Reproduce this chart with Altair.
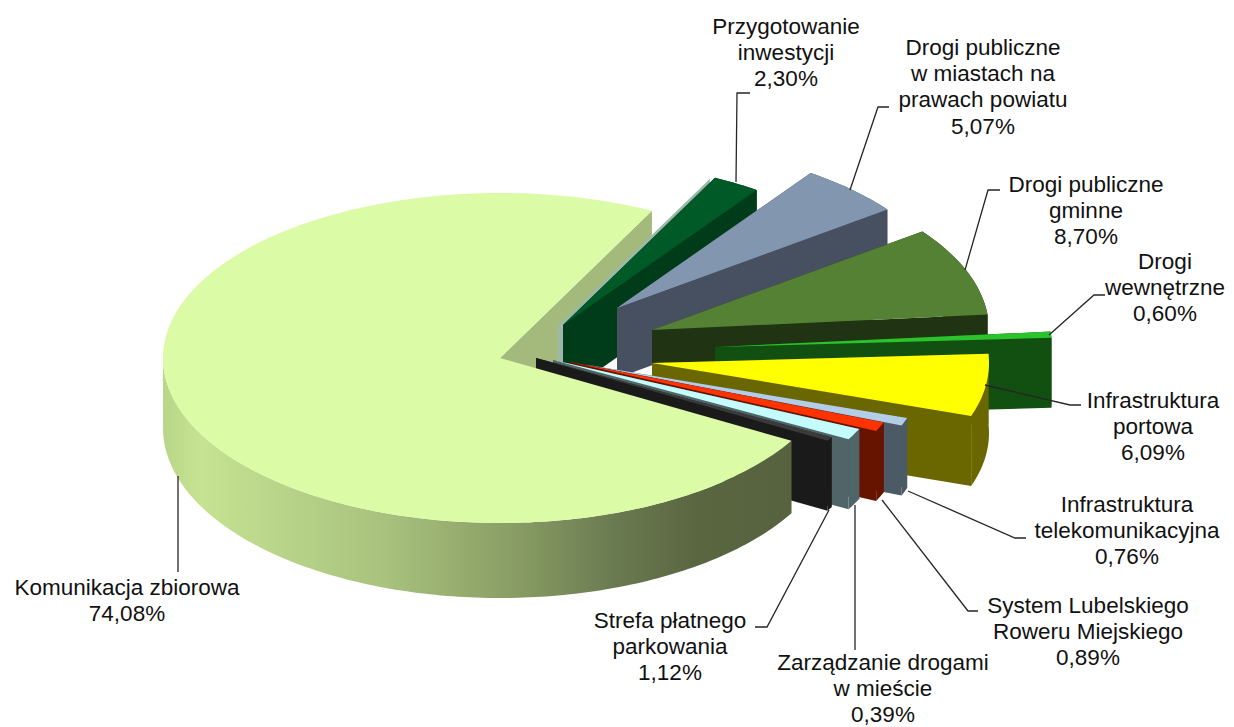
import math
import altair as alt
import pandas as pd

# Shares in the order the slices run round the pie (counter-clockwise)
names = ["Komunikacja zbiorowa", "Zarządzanie drogami w mieście", "Strefa płatnego parkowania",
         "System Lubelskiego Roweru Miejskiego", "Infrastruktura telekomunikacyjna",
         "Infrastruktura portowa", "Drogi wewnętrzne", "Drogi publiczne gminne",
         "Drogi publiczne w miastach na prawach powiatu", "Przygotowanie inwestycji"]
shares = [74.08, 0.39, 1.12, 0.89, 0.76, 6.09, 0.60, 8.70, 5.07, 2.30]

label_lines = [
    ["Komunikacja zbiorowa", "74,08%"],
    ["Zarządzanie drogami", "w mieście", "0,39%"],
    ["Strefa płatnego", "parkowania", "1,12%"],
    ["System Lubelskiego", "Roweru Miejskiego", "0,89%"],
    ["Infrastruktura", "telekomunikacyjna", "0,76%"],
    ["Infrastruktura", "portowa", "6,09%"],
    ["Drogi", "wewnętrzne", "0,60%"],
    ["Drogi publiczne", "gminne", "8,70%"],
    ["Drogi publiczne", "w miastach na", "prawach powiatu", "5,07%"],
    ["Przygotowanie", "inwestycji", "2,30%"],
]

# Layout (pixels of the page)
label_x = [127, 883, 670, 1088, 1127, 1153, 1165, 1086, 983, 786]
label_y = [588, 663, 621, 606, 505, 401, 262, 185, 48, 27]
apex_x = [500, 536, 553, 570, 588, 652, 715, 652, 617, 563]
apex_y = [358, 358, 360, 362, 365, 363, 347, 330, 308, 325]
top_col = ["#DBFBA6", "#3A3A3A", "#C4FBFB", "#FF3300", "#B4CDE6", "#FFFF00", "#2BC22B", "#558135", "#8297AF", "#005A28"]
wall_col = ["#A4BA7C", "#1A1A1A", "#4F6567", "#661400", "#4C5A66", "#6A6600", "#125012", "#203312", "#475060", "#003C19"]
leaders = [
    [(178, 476), (178, 572)],
    [(855, 505), (855, 650)],
    [(829, 510), (767, 627), (755, 627)],
    [(882, 500), (968, 611), (978, 611)],
    [(908, 491), (1015, 538), (1026, 538)],
    [(985, 385), (1070, 405), (1081, 405)],
    [(1049, 335), (1094, 295), (1105, 295)],
    [(965, 270), (988, 190), (1000, 190)],
    [(850, 190), (878, 107), (889, 107)],
    [(736, 182), (737, 93), (750, 93)],
]
RX, RY, DEPTH = 337, 165, 70
START = 63.2
LINE = 26.2
FRONT_EXTRA = 5

W, H = 1218, 719
xs = alt.Scale(domain=[8, 8 + W])
ys = alt.Scale(domain=[8 + H, 8])


def layer(points, fill):
    df = pd.DataFrame({"x": [p[0] for p in points], "y": [p[1] for p in points],
                       "i": range(len(points))})
    return alt.Chart(df).mark_line(fill=fill, stroke=None, strokeWidth=0, interpolate="linear").encode(
        x=alt.X("x:Q", scale=xs, axis=None),
        y=alt.Y("y:Q", scale=ys, axis=None),
        order=alt.Order("i:Q"),
    )


def edge(ax, ay, t):
    r = math.radians(t)
    return (ax + RX * math.cos(r), ay - RY * math.sin(r))


def arc(ax, ay, t1, t2):
    n = max(2, int(abs(t2 - t1)) + 1)
    return [edge(ax, ay, t1 + (t2 - t1) * k / n) for k in range(n + 1)]


def wall(ax, ay, t):
    e = edge(ax, ay, t)
    return [(ax, ay), e, (e[0], e[1] + DEPTH), (ax, ay + DEPTH)]


def band(ax, ay, t1, t2, extra=0):
    n = max(2, int(abs(t2 - t1)) + 1)
    ts = [t1 + (t2 - t1) * k / n for k in range(n + 1)]
    upper = [edge(ax, ay, t) for t in ts]
    lower = []
    for t, p in zip(ts, upper):
        lower.append((p[0], p[1] + DEPTH + extra * max(0.0, -math.sin(math.radians(t)))))
    return upper + lower[::-1]


def top(ax, ay, t1, t2):
    return [(ax, ay)] + arc(ax, ay, t1, t2)


bounds = [START]
for s in shares:
    bounds.append(bounds[-1] + s * 3.6)

layers = []
# cut face of the largest slice lies behind everything else
layers.append(layer(wall(apex_x[0], apex_y[0], bounds[0]), wall_col[0]))

# remaining slices, back to front
for k in range(len(shares) - 1, 0, -1):
    ax, ay, t1, t2 = apex_x[k], apex_y[k], bounds[k], bounds[k + 1]
    if k == len(shares) - 1:
        layers.append(layer(wall(ax - 5, ay + 1, t2), "#9DB8AB"))
    layers.append(layer(wall(ax, ay, t2), wall_col[k]))
    layers.append(layer(wall(ax, ay, t1), wall_col[k]))
    layers.append(layer(band(ax, ay, t1, t2), wall_col[k]))
    layers.append(layer(top(ax, ay, t1, t2), top_col[k]))

# largest slice in front; only the near half of its rim can be seen
side_grad = alt.Gradient(
    gradient="linear", x1=0, x2=1, y1=0, y2=0,
    stops=[alt.GradientStop(offset=0, color="#B9D688"),
           alt.GradientStop(offset=0.06, color="#C5E392"),
           alt.GradientStop(offset=0.35, color="#A9C27E"),
           alt.GradientStop(offset=0.55, color="#8A9F65"),
           alt.GradientStop(offset=0.72, color="#6A7A50"),
           alt.GradientStop(offset=0.85, color="#5A6640"),
           alt.GradientStop(offset=1, color="#57633F")],
)
layers.append(layer(band(apex_x[0], apex_y[0], 180, bounds[1], FRONT_EXTRA), side_grad))
layers.append(layer(top(apex_x[0], apex_y[0], bounds[0], bounds[1]), top_col[0]))

# leader lines
rows = []
for li, pts in enumerate(leaders):
    for j, (x, y) in enumerate(pts):
        rows.append({"x": x, "y": y, "leader": names[li], "j": j})
layers.append(alt.Chart(pd.DataFrame(rows)).mark_line(color="#262626", strokeWidth=1.3).encode(
    x=alt.X("x:Q", scale=xs, axis=None),
    y=alt.Y("y:Q", scale=ys, axis=None),
    detail="leader:N",
    order=alt.Order("j:Q"),
))

# labels
rows = []
for lines, lx, ly in zip(label_lines, label_x, label_y):
    for j, t in enumerate(lines):
        rows.append({"x": lx, "y": ly + j * LINE, "t": t})
layers.append(alt.Chart(pd.DataFrame(rows)).mark_text(
    font="Liberation Sans", fontSize=22.5, color="#111111", align="center", baseline="middle"
).encode(
    x=alt.X("x:Q", scale=xs, axis=None),
    y=alt.Y("y:Q", scale=ys, axis=None),
    text="t:N",
))

chart = alt.layer(*layers).properties(
    width=W, height=H, padding=0, autosize=alt.AutoSizeParams(type="none"),
    background="#FFFFFF",
).configure_view(stroke=None)

chart.save("out.html", embed_options={"renderer": "svg", "actions": False})
